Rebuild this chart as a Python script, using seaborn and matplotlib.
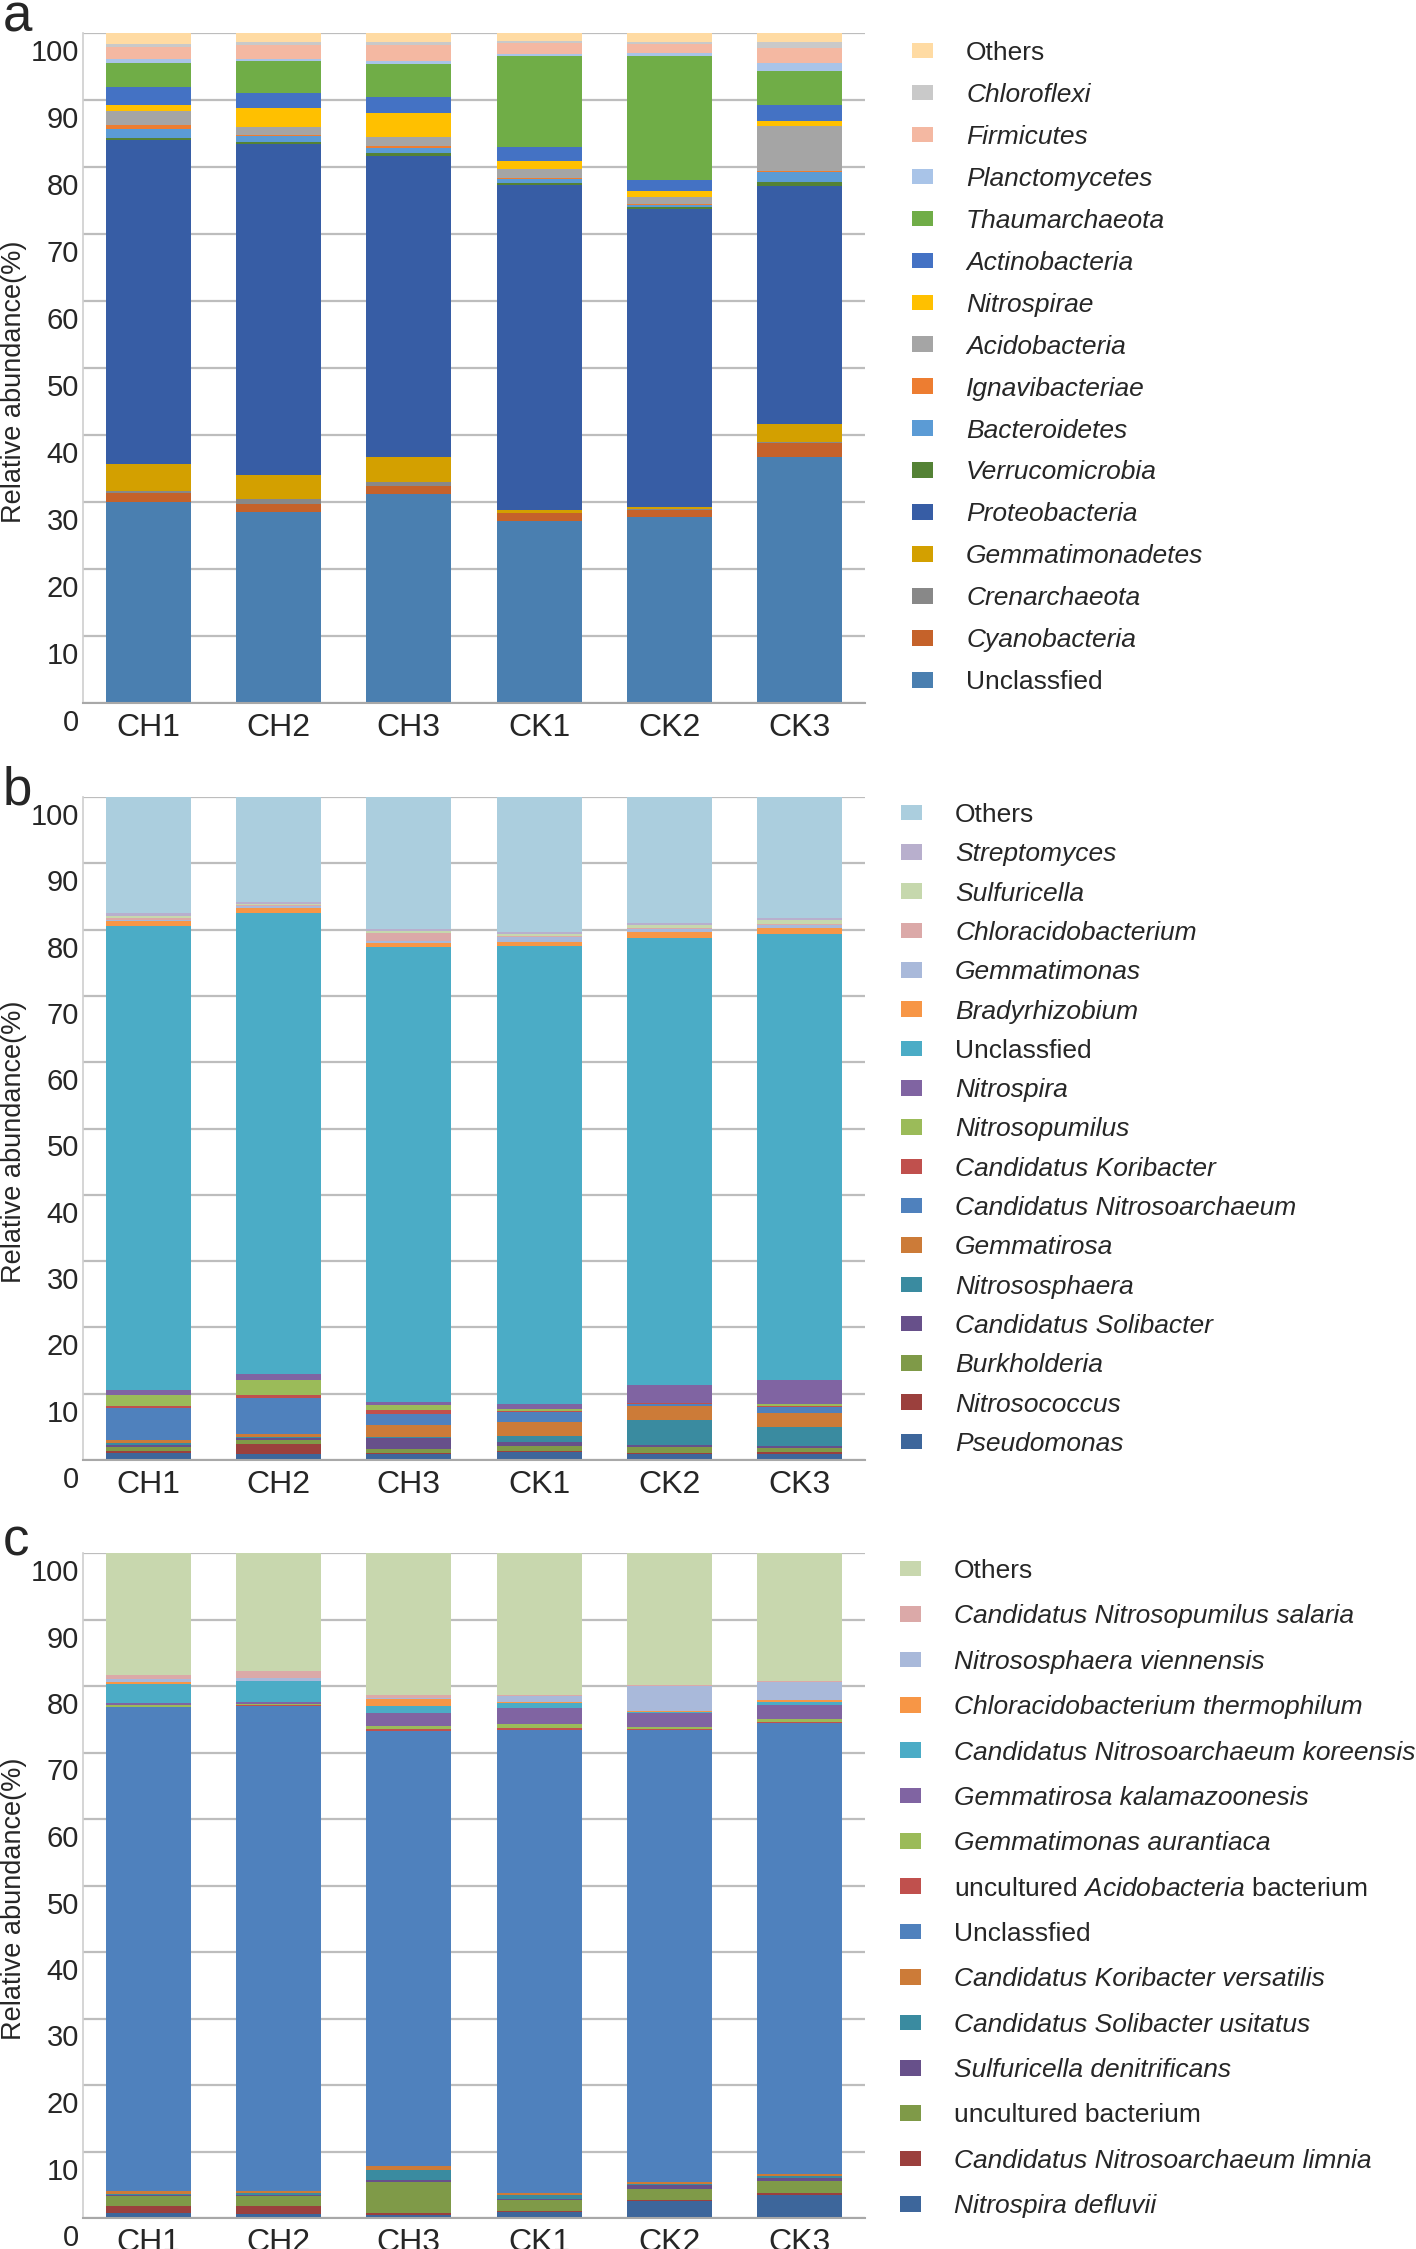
import numpy as np
import matplotlib
matplotlib.use("Agg")
import matplotlib.pyplot as plt
from matplotlib.patches import Patch
from matplotlib.transforms import ScaledTranslation
import seaborn as sns

samples = ["CH1", "CH2", "CH3", "CK1", "CK2", "CK3"]

# ---- panel a : phylum level (legend order, top of stack first)
phyla = ["Others", "Chloroflexi", "Firmicutes", "Planctomycetes", "Thaumarchaeota",
         "Actinobacteria", "Nitrospirae", "Acidobacteria", "Ignavibacteriae",
         "Bacteroidetes", "Verrucomicrobia", "Proteobacteria", "Gemmatimonadetes",
         "Crenarchaeota", "Cyanobacteria", "Unclassfied"]
phyla_colors = ["#FFDBA3", "#C9C9C9", "#F4B8A2", "#A9C4E8", "#70AD47", "#4472C4",
                "#FFC000", "#A5A5A5", "#ED7D31", "#5B9BD5", "#548235", "#375DA5",
                "#D3A000", "#888888", "#C5622A", "#4A7FB0"]
phyla_vals = [
    [1.6, 1.4, 1.4, 1.2, 1.3, 1.4],
    [0.5, 0.4, 0.4, 0.3, 0.3, 0.9],
    [1.8, 2.1, 2.4, 1.6, 1.4, 2.2],
    [0.6, 0.3, 0.4, 0.4, 0.4, 1.2],
    [3.5, 4.8, 5.0, 13.5, 18.6, 5.0],
    [2.7, 2.2, 2.3, 2.1, 1.6, 2.5],
    [0.9, 2.9, 3.6, 1.2, 0.9, 0.7],
    [2.1, 1.1, 1.4, 1.3, 1.0, 6.7],
    [0.6, 0.1, 0.2, 0.2, 0.2, 0.2],
    [1.3, 0.9, 0.8, 0.6, 0.3, 1.5],
    [0.4, 0.4, 0.4, 0.3, 0.3, 0.6],
    [48.4, 49.3, 45.0, 48.5, 44.4, 35.4],
    [4.0, 3.6, 3.7, 0.4, 0.3, 2.8],
    [0.2, 0.8, 0.6, 0.1, 0.2, 0.1],
    [1.4, 1.2, 1.2, 1.2, 1.0, 2.1],
    [30.0, 28.5, 31.2, 27.1, 27.8, 36.7],
]

# ---- panel b : genus level
genera = ["Others", "Streptomyces", "Sulfuricella", "Chloracidobacterium", "Gemmatimonas",
          "Bradyrhizobium", "Unclassfied", "Nitrospira", "Nitrosopumilus",
          "Candidatus Koribacter", "Candidatus Nitrosoarchaeum", "Gemmatirosa",
          "Nitrososphaera", "Candidatus Solibacter", "Burkholderia", "Nitrosococcus",
          "Pseudomonas"]
genera_colors = ["#ABCEDE", "#B8AFCD", "#C6D8AD", "#DBA9A8", "#A9B9DA", "#F79646",
                 "#4BACC6", "#8064A2", "#9BBB59", "#C0504D", "#4F81BD", "#CC7B38",
                 "#3A8BA0", "#67508A", "#7F9A48", "#9B403D", "#3D669B"]
genera_vals = [
    [17.5, 15.8, 19.85, 20.3, 18.9, 18.3],
    [0.5, 0.35, 0.3, 0.35, 0.3, 0.25],
    [0.3, 0.2, 0.3, 0.3, 0.5, 0.6],
    [0.2, 0.15, 1.2, 0.15, 0.1, 0.15],
    [0.25, 0.2, 0.3, 0.7, 0.5, 0.5],
    [0.65, 0.8, 0.7, 0.7, 0.9, 0.8],
    [70.0, 69.6, 68.6, 69.0, 67.5, 67.4],
    [0.85, 0.8, 0.45, 0.8, 2.6, 3.55],
    [1.65, 2.35, 0.7, 0.3, 0.1, 0.25],
    [0.25, 0.35, 0.65, 0.2, 0.15, 0.2],
    [4.9, 5.5, 1.7, 1.4, 0.25, 0.95],
    [0.45, 0.45, 1.85, 2.25, 2.1, 2.0],
    [0.2, 0.2, 0.1, 0.85, 3.8, 2.9],
    [0.3, 0.25, 1.6, 0.65, 0.25, 0.3],
    [0.7, 0.65, 0.65, 0.7, 0.9, 0.7],
    [0.3, 1.45, 0.15, 0.2, 0.2, 0.25],
    [1.0, 0.9, 0.9, 1.15, 0.9, 0.9],
]

# ---- panel c : species level
species = ["Others", "Candidatus Nitrosopumilus salaria", "Nitrososphaera viennensis",
           "Chloracidobacterium thermophilum", "Candidatus Nitrosoarchaeum koreensis",
           "Gemmatirosa kalamazoonesis", "Gemmatimonas aurantiaca",
           r"uncultured $\mathit{Acidobacteria}$ bacterium", "Unclassfied",
           "Candidatus Koribacter versatilis", "Candidatus Solibacter usitatus",
           "Sulfuricella denitrificans", "uncultured bacterium",
           "Candidatus Nitrosoarchaeum limnia", "Nitrospira defluvii"]
species_colors = ["#C8D7AE", "#DBA9A8", "#A9B9DA", "#F79646", "#4BACC6", "#8064A2",
                  "#9BBB59", "#C0504D", "#4F81BD", "#CC7B38", "#3A8BA0", "#67508A",
                  "#7F9A48", "#9B403D", "#3D669B"]
species_vals = [
    [18.4, 17.7, 21.4, 21.3, 19.85, 19.25],
    [0.65, 1.1, 0.45, 0.15, 0.1, 0.15],
    [0.45, 0.4, 0.15, 0.9, 3.8, 2.7],
    [0.25, 0.1, 1.0, 0.2, 0.15, 0.3],
    [2.8, 3.1, 1.1, 0.8, 0.1, 0.5],
    [0.4, 0.3, 1.9, 2.4, 2.1, 2.0],
    [0.2, 0.2, 0.5, 0.6, 0.3, 0.5],
    [0.1, 0.1, 0.3, 0.3, 0.2, 0.15],
    [72.7, 73.0, 65.35, 69.6, 68.0, 67.9],
    [0.45, 0.3, 0.6, 0.3, 0.25, 0.25],
    [0.2, 0.2, 1.6, 0.55, 0.25, 0.25],
    [0.2, 0.25, 0.2, 0.2, 0.5, 0.55],
    [1.5, 1.4, 4.65, 1.6, 1.75, 1.75],
    [0.95, 1.2, 0.35, 0.2, 0.15, 0.3],
    [0.8, 0.65, 0.45, 0.9, 2.5, 3.45],
]

roman = {"Others", "Unclassfied", "uncultured bacterium"}

sns.set_theme(style="white")
plt.rcParams["font.family"] = ["Liberation Sans", "DejaVu Sans"]
plt.rcParams["mathtext.fontset"] = "custom"
plt.rcParams["mathtext.rm"] = "Liberation Sans"
plt.rcParams["mathtext.it"] = "Liberation Sans:italic"

W, H = 1416, 2249
fig = plt.figure(figsize=(W / 100, H / 100), dpi=100)


def stacked_panel(top_px, bottom_px, taxa, colors, vals, letter, letter_y,
                  leg_x, leg_top, spacing):
    ax = fig.add_axes([83 / W, 1 - bottom_px / H, 782 / W, (bottom_px - top_px) / H])
    arr = np.array(vals)[::-1]          # bottom of the stack first
    cols = colors[::-1]
    cum = arr.cumsum(axis=0)
    # tallest cumulative layer first, each lower layer drawn over it
    for i in range(len(cum) - 1, -1, -1):
        sns.barplot(x=samples, y=cum[i], color=cols[i], saturation=1, width=0.65,
                    errorbar=None, linewidth=0, ax=ax)
    ax.set_ylim(0, 100)
    ax.set_xlim(-0.5, 5.5)
    ax.set_yticks(range(0, 101, 10))
    ax.yaxis.grid(True, color="#BDBDBD", lw=1.6)
    ax.xaxis.grid(False)
    ax.set_axisbelow(True)
    for s in ["top", "right"]:
        ax.spines[s].set_visible(False)
    ax.spines["left"].set_color("#D0D0D0")
    ax.spines["bottom"].set_color("#A8A8A8")
    ax.spines["bottom"].set_linewidth(1.5)

    ax.set_xticks(range(6))
    ax.set_xticklabels(samples, fontsize=23)
    ax.set_xticks(np.arange(-0.5, 6, 1), minor=True)
    ax.tick_params(axis="x", which="major", length=0, pad=7)
    ax.tick_params(axis="x", which="minor", length=8, width=1.3, color="#A8A8A8")
    ax.tick_params(axis="y", length=0, pad=3)
    ax.set_yticklabels([str(v) for v in range(0, 101, 10)], fontsize=21)
    shift = ScaledTranslation(0, -0.17, fig.dpi_scale_trans)
    for t in ax.get_yticklabels():
        t.set_transform(t.get_transform() + shift)

    ax.set_xlabel("")
    ax.set_ylabel("Relative abundance(%)", fontsize=19.5)
    ax.yaxis.set_label_coords(-0.071, 0.48)

    fig.text(3 / W, 1 - letter_y / H, letter, fontsize=38, va="baseline", ha="left")

    handles = [Patch(facecolor=c, edgecolor="none") for c in colors]
    leg = ax.legend(handles, taxa, loc="upper left", bbox_to_anchor=(leg_x / W, 1 - leg_top / H),
                    bbox_transform=fig.transFigure, frameon=False, fontsize=19,
                    handlelength=0.8, handleheight=0.53, handletextpad=1.25,
                    labelspacing=spacing, borderpad=0, borderaxespad=0)
    for txt, name in zip(leg.get_texts(), taxa):
        if name not in roman and "$" not in name:
            txt.set_fontstyle("italic")
    return ax


stacked_panel(33, 703, phyla, phyla_colors, phyla_vals, "a", 32, 912, 41, 0.68)
stacked_panel(797, 1460, genera, genera_colors, genera_vals, "b", 804, 901, 803, 0.58)
stacked_panel(1553, 2218, species, species_colors, species_vals, "c", 1556, 900, 1559, 0.81)

fig.savefig("out.png", dpi=100)
